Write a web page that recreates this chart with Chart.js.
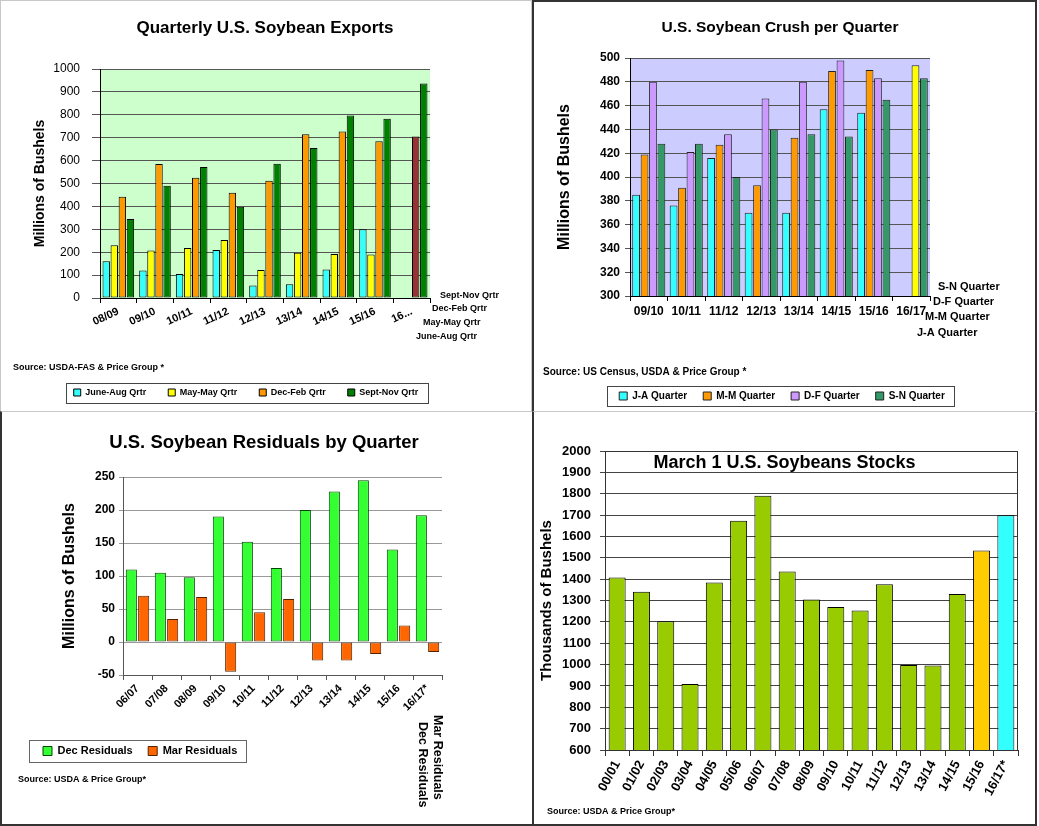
<!DOCTYPE html>
<html><head><meta charset="utf-8">
<script src="https://cdn.jsdelivr.net/npm/chart.js@4.4.1/dist/chart.umd.min.js"></script>
<style>
html,body{margin:0;padding:0;background:#fff;}
body{width:1039px;height:826px;position:relative;overflow:hidden;}
.panel{position:absolute;box-sizing:border-box;background:#fff;}
.panel canvas{position:absolute;left:0;top:0;}
#p1{left:0;top:0;width:532px;height:412px;border:1px solid #c8c8c8;}
#p2{left:532px;top:0;width:505px;height:412px;border-left:2px solid #333;border-top:2px solid #333;border-right:2px solid #333;border-bottom:1px solid #c8c8c8;}
#p3{left:0;top:411px;width:533px;height:415px;border-left:2px solid #333;border-bottom:2px solid #333;border-top:1px solid #c8c8c8;border-right:1px solid #c8c8c8;}
#p4{left:532px;top:411px;width:505px;height:415px;border-left:2px solid #333;border-right:2px solid #333;border-bottom:2px solid #333;border-top:1px solid #c8c8c8;}
</style></head>
<body>
<div class="panel" id="p1"><canvas id="c1" width="530" height="410" style="width:530px;height:410px"></canvas></div>
<div class="panel" id="p2"><canvas id="c2" width="501" height="409" style="width:501px;height:409px"></canvas></div>
<div class="panel" id="p3"><canvas id="c3" width="530" height="412" style="width:530px;height:412px"></canvas></div>
<div class="panel" id="p4"><canvas id="c4" width="501" height="412" style="width:501px;height:412px"></canvas></div>
<script>
// ---------- DATA ----------
const exportsCats   = ['08/09','09/10','10/11','11/12','12/13','13/14','14/15','15/16','16...'];
const exportsJunAug = [160, 120, 105, 210, 55, 60, 125, 300, null];
const exportsMayMay = [230, 207, 218, 253, 122, 198, 192, 190, null];
const exportsDecFeb = [442, 585, 525, 460, 512, 715, 727, 685, 705];
const exportsSepNov = [345, 490, 572, 398, 586, 655, 797, 783, 937];
const exportsTicks  = {min: 0, max: 1000, step: 100};

const crushCats = ['09/10','10/11','11/12','12/13','13/14','14/15','15/16','16/17'];
const crushJA = [385, 376, 416, 370, 370, 457, 454, null];
const crushMM = [419, 391, 427, 393, 433, 489, 490, null];
const crushDF = [480, 421, 436, 466, 480, 498, 483, 494];
const crushSN = [428, 428, 400, 440, 436, 434, 465, 483];
const crushTicks = {min: 300, max: 500, step: 20};

const residCats = ['06/07','07/08','08/09','09/10','10/11','11/12','12/13','13/14','14/15','15/16','16/17*'];
const residDec = [110, 105, 98, 190, 152, 112, 200, 228, 245, 140, 192];
const residMar = [70, 35, 68, -45, 45, 65, -28, -28, -18, 25, -15];
const residTicks = {min: -50, max: 250, step: 50};

const stocksCats = ['00/01','01/02','02/03','03/04','04/05','05/06','06/07','07/08','08/09','09/10','10/11','11/12','12/13','13/14','14/15','15/16','16/17*'];
const stocksVals = [1408, 1341, 1203, 909, 1384, 1673, 1790, 1436, 1305, 1270, 1253, 1376, 998, 996, 1331, 1534, 1699];
const stocksTicks = {min: 600, max: 2000, step: 100};

// ---------- SETUP ----------
const FONT = "'Liberation Sans', Arial, Helvetica, sans-serif";
Chart.defaults.font.family = FONT;
Chart.defaults.color = '#000';
Chart.defaults.animation = false;
Chart.defaults.plugins.tooltip.enabled = false;
const plain = v => String(v);

const areaBg = { id:'areaBg', beforeDraw(chart, args, opts){
  if(!opts || !opts.color) return;
  const {ctx, chartArea:a} = chart;
  ctx.save(); ctx.fillStyle = opts.color; ctx.fillRect(a.left, a.top, a.right-a.left, a.bottom-a.top); ctx.restore();
}};
const legendBox = { id:'legendBox', afterDraw(chart, args, opts){
  if(!opts || !opts.display) return;
  const hb = chart.legend && chart.legend.legendHitBoxes;
  if(!hb || !hb.length) return;
  let l=Infinity,t=Infinity,r=-Infinity,b=-Infinity;
  hb.forEach(h=>{l=Math.min(l,h.left);t=Math.min(t,h.top);r=Math.max(r,h.left+h.width);b=Math.max(b,h.top+h.height);});
  const m = opts.margin, ctx = chart.ctx;
  ctx.save(); ctx.strokeStyle = opts.color || '#444'; ctx.lineWidth = 1;
  ctx.strokeRect(Math.round(l-m.left)+0.5, Math.round(t-m.top)+0.5, Math.round(r-l+m.left+m.right), Math.round(b-t+m.top+m.bottom));
  ctx.restore();
}};
const extraText = { id:'extraText', afterDraw(chart, args, opts){
  const items = (opts && opts.items) || [];
  const ctx = chart.ctx;
  items.forEach(it=>{
    ctx.save(); ctx.font = it.font; ctx.fillStyle = it.color || '#000';
    ctx.textAlign = it.align || 'left'; ctx.textBaseline = it.baseline || 'middle';
    ctx.translate(it.x, it.y); if(it.rotate) ctx.rotate(it.rotate*Math.PI/180);
    ctx.fillText(it.text, 0, 0); ctx.restore();
  });
}};
const frame = { id:'frame', afterDraw(chart, args, opts){
  if(!opts || !opts.display) return;
  const {ctx, chartArea:a} = chart;
  ctx.save(); ctx.strokeStyle = opts.color || '#333'; ctx.lineWidth = 1;
  ctx.strokeRect(Math.round(a.left)+0.5, Math.round(a.top)+0.5, Math.round(a.right-a.left)-1, Math.round(a.bottom-a.top));
  ctx.restore();
}};
const f = (s, w) => (w ? 'bold ' : '') + s + 'px ' + FONT;
const dummyRight = w => ({type:'linear', position:'right', display:true, grid:{display:false}, border:{display:false}, ticks:{display:false}, afterFit:s=>{s.width=w;}});

// ---------- CHART 1 ----------
new Chart(document.getElementById('c1'), {
  type:'bar',
  data:{ labels: exportsCats, datasets:[
    {label:'June-Aug Qrtr', data: exportsJunAug, backgroundColor:'#33ffff'},
    {label:'May-May Qrtr',  data: exportsMayMay, backgroundColor:'#ffff00'},
    {label:'Dec-Feb Qrtr',  data: exportsDecFeb, backgroundColor: c => (c.dataIndex === exportsCats.length-1 ? '#993333' : '#ff9900')},
    {label:'Sept-Nov Qrtr', data: exportsSepNov, backgroundColor:'#008000'}
  ]},
  options:{
    responsive:false, maintainAspectRatio:false,
    layout:{padding:{left:0,right:40,top:0,bottom:4}},
    datasets:{bar:{borderColor:'#000', borderWidth:1, borderSkipped:false, categoryPercentage:0.88, barPercentage:0.92}},
    scales:{
      x:{ grid:{drawOnChartArea:false, color:'#000', tickLength:5}, border:{color:'#000'},
          ticks:{font:{size:11, weight:'bold'}, maxRotation:25, minRotation:25, autoSkip:false, padding:2},
          afterFit:s=>{s.height=68;} },
      y:{ min:exportsTicks.min, max:exportsTicks.max, ticks:{stepSize:exportsTicks.step, font:{size:12}, padding:12, callback:plain},
          grid:{color:'#555', tickLength:8}, border:{color:'#000'},
          title:{display:true, text:'Millions of Bushels', font:{size:14, weight:'bold'}, padding:{top:31,bottom:0}},
          afterFit:s=>{s.width=99;} },
      yR: dummyRight(61)
    },
    plugins:{
      title:{display:true, text:'Quarterly U.S. Soybean Exports', fullSize:false, font:{size:17, weight:'bold'}, color:'#000', padding:{top:17,bottom:30.6}},
      legend:{position:'bottom', labels:{boxWidth:7, boxHeight:7, padding:22, font:{size:9, weight:'bold'}, color:'#000'}},
      areaBg:{color:'#ccffcc'},
      legendBox:{display:true, margin:{left:8,right:9,top:5.5,bottom:5.5}},
      extraText:{items:[
        {text:'Sept-Nov Qrtr', x:439, y:295, font:f(9,true)},
        {text:'Dec-Feb Qrtr',  x:431, y:308, font:f(9,true)},
        {text:'May-May Qrtr',  x:422, y:322, font:f(9,true)},
        {text:'June-Aug Qrtr', x:415, y:336, font:f(9,true)},
        {text:'Source: USDA-FAS & Price Group *', x:12, y:367, font:f(9,true)}
      ]}
    }
  },
  plugins:[areaBg, legendBox, extraText]
});

// ---------- CHART 2 ----------
new Chart(document.getElementById('c2'), {
  type:'bar',
  data:{ labels: crushCats, datasets:[
    {label:'J-A Quarter', data: crushJA, backgroundColor:'#33ffff'},
    {label:'M-M Quarter', data: crushMM, backgroundColor:'#ff9900'},
    {label:'D-F Quarter', data: crushDF, backgroundColor: c => (c.dataIndex === crushCats.length-1 ? '#ffff00' : '#cc99ff')},
    {label:'S-N Quarter', data: crushSN, backgroundColor:'#339966'}
  ]},
  options:{
    responsive:false, maintainAspectRatio:false,
    layout:{padding:{left:0,right:5,top:0,bottom:0}},
    datasets:{bar:{borderColor:'#222', borderWidth:1, borderSkipped:false, categoryPercentage:0.9, barPercentage:0.92}},
    scales:{
      x:{ grid:{drawOnChartArea:false, color:'#000', tickLength:5}, border:{color:'#000'},
          ticks:{font:{size:12, weight:'bold'}, maxRotation:0, minRotation:0, autoSkip:false, padding:3},
          afterFit:s=>{s.height=79;} },
      y:{ min:crushTicks.min, max:crushTicks.max, ticks:{stepSize:crushTicks.step, font:{size:12, weight:'bold'}, padding:5, callback:plain},
          grid:{color:'#555', tickLength:5}, border:{color:'#000'},
          title:{display:true, text:'Millions of Bushels', font:{size:16, weight:'bold'}, padding:{top:21.4,bottom:0}},
          afterFit:s=>{s.width=96;} },
      yR: dummyRight(100)
    },
    plugins:{
      title:{display:true, text:'U.S. Soybean Crush per Quarter', fullSize:false, font:{size:15.5, weight:'bold'}, color:'#000', padding:{top:16.7,bottom:20.7}},
      legend:{position:'bottom', labels:{boxWidth:8, boxHeight:8, padding:16, font:{size:10, weight:'bold'}, color:'#000'}},
      areaBg:{color:'#ccccff'},
      legendBox:{display:true, margin:{left:12,right:9,top:5,bottom:5}},
      extraText:{items:[
        {text:'S-N Quarter', x:404, y:285, font:f(11,true)},
        {text:'D-F Quarter', x:399, y:300, font:f(11,true)},
        {text:'M-M Quarter', x:391, y:315, font:f(11,true)},
        {text:'J-A Quarter', x:383, y:331, font:f(11,true)},
        {text:'Source: US Census, USDA & Price Group *', x:9, y:370, font:f(10,true)}
      ]}
    }
  },
  plugins:[areaBg, legendBox, extraText]
});

// ---------- CHART 3 ----------
new Chart(document.getElementById('c3'), {
  type:'bar',
  data:{ labels: residCats, datasets:[
    {label:'Dec Residuals', data: residDec, backgroundColor:'#33ff33', borderColor:'#004400'},
    {label:'Mar Residuals', data: residMar, backgroundColor:'#ff6600', borderColor:'#552200'}
  ]},
  options:{
    responsive:false, maintainAspectRatio:false,
    layout:{padding:{left:25.5,right:31.5,top:0,bottom:57.5}},
    datasets:{bar:{borderWidth:1, borderSkipped:false, categoryPercentage:0.85, barPercentage:0.9}},
    scales:{
      x:{ grid:{drawOnChartArea:false, color:'#555', tickLength:5}, border:{color:'#555'},
          ticks:{font:{size:11, weight:'bold'}, maxRotation:45, minRotation:45, autoSkip:false, padding:2},
          afterFit:s=>{s.height=55;} },
      y:{ min:residTicks.min, max:residTicks.max, ticks:{stepSize:residTicks.step, font:{size:12, weight:'bold'}, padding:4, callback:plain},
          grid:{color:'#999', tickLength:4}, border:{color:'#555'},
          title:{display:true, text:'Millions of Bushels', font:{size:16, weight:'bold'}, padding:{top:32.9,bottom:0}},
          afterFit:s=>{s.width=95.5;} },
      yR: dummyRight(58.5)
    },
    plugins:{
      title:{display:true, text:'U.S. Soybean Residuals by Quarter', fullSize:true, font:{size:18.5, weight:'bold'}, color:'#000', padding:{top:19.9,bottom:22.9}},
      legend:{position:'bottom', align:'start', labels:{boxWidth:9, boxHeight:9, padding:15.5, font:{size:11, weight:'bold'}, color:'#000'}},
      legendBox:{display:true, color:'#666', margin:{left:14,right:9,top:5.5,bottom:5.5}},
      extraText:{items:[
        {text:'Mar Residuals', x:435, y:303, rotate:90, font:f(12.5,true)},
        {text:'Dec Residuals', x:420, y:310, rotate:90, font:f(12.5,true)},
        {text:'Source: USDA & Price Group*', x:16, y:368, font:f(9,true)}
      ]}
    }
  },
  plugins:[legendBox, extraText]
});

// ---------- CHART 4 ----------
new Chart(document.getElementById('c4'), {
  type:'bar',
  data:{ labels: stocksCats, datasets:[
    {label:'March 1 Stocks', data: stocksVals,
     backgroundColor: c => (c.dataIndex === stocksCats.length-1 ? '#33ffff' : (c.dataIndex === stocksCats.length-2 ? '#ffcc00' : '#99cc00'))}
  ]},
  options:{
    responsive:false, maintainAspectRatio:false,
    layout:{padding:{left:0,right:0,top:0,bottom:0}},
    datasets:{bar:{borderColor:'#000', borderWidth:1, borderSkipped:false, categoryPercentage:1, barPercentage:0.7}},
    scales:{
      x:{ grid:{drawOnChartArea:false, color:'#333', tickLength:6, offset:true}, border:{color:'#333'},
          ticks:{font:{size:13, weight:'bold'}, maxRotation:62, minRotation:62, autoSkip:false, padding:2},
          afterFit:s=>{s.height=74;} },
      y:{ min:stocksTicks.min, max:stocksTicks.max, ticks:{stepSize:stocksTicks.step, font:{size:13, weight:'bold'}, padding:9, callback:plain},
          grid:{color:'#444', tickLength:5}, border:{color:'#333'},
          title:{display:true, text:'Thousands of Bushels', font:{size:15, weight:'bold'}, padding:{top:3.7,bottom:0}},
          afterFit:s=>{s.width=71;} },
      yR: dummyRight(17)
    },
    plugins:{
      title:{display:true, text:'March 1 U.S. Soybeans Stocks', fullSize:true, font:{size:18, weight:'bold'}, color:'#000', padding:{top:40.2,bottom:-22.8}},
      legend:{display:false},
      frame:{display:true, color:'#333'},
      extraText:{items:[
        {text:'Source: USDA & Price Group*', x:13, y:400, font:f(9,true)}
      ]}
    }
  },
  plugins:[frame, extraText]
});
</script>
</body></html>
